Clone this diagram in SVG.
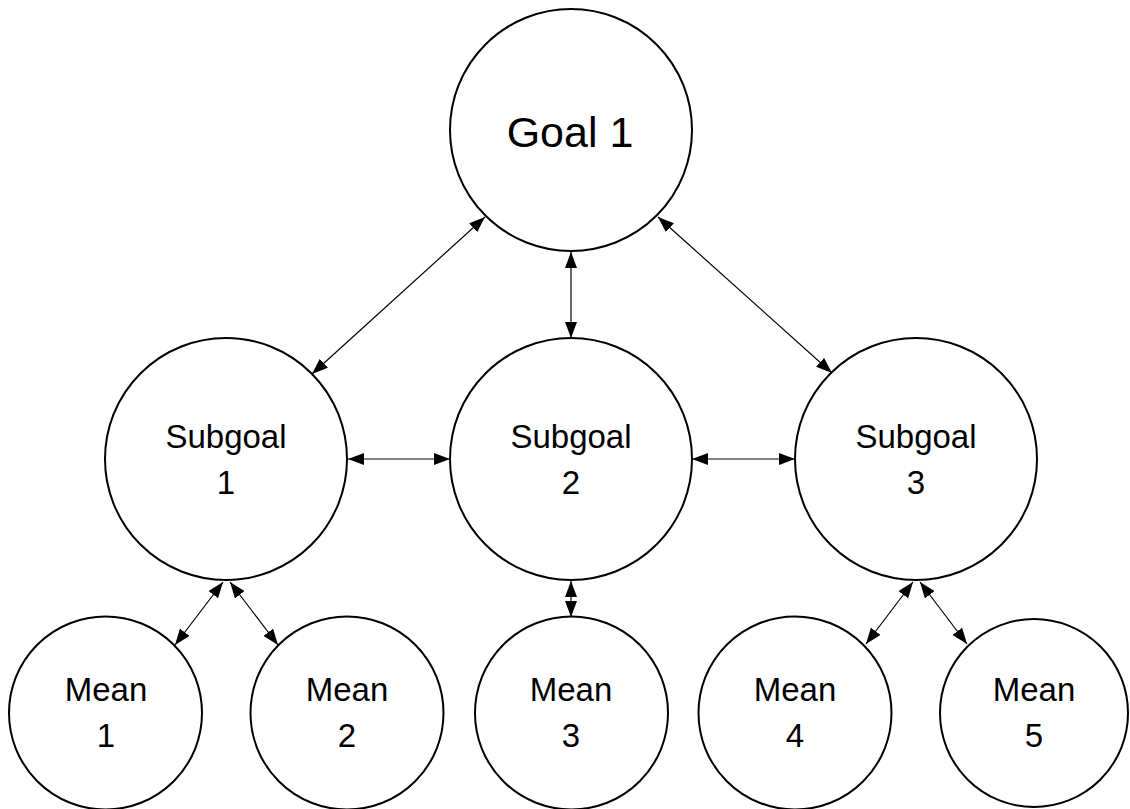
<svg xmlns="http://www.w3.org/2000/svg" width="1130" height="809" viewBox="0 0 1130 809">
<style>
.node circle { fill: #fff; stroke: #000; stroke-width: 2; }
.node text { font-family: "Liberation Sans", Arial, sans-serif; font-size: 33px; fill: #000; text-anchor: middle; }
.node text.big { font-size: 43px; }
.conn line { stroke: #000; stroke-width: 1.2; marker-start: url(#ah); marker-end: url(#ah); }
</style>
<defs>
<marker id="ah" markerUnits="userSpaceOnUse" markerWidth="16" markerHeight="12" refX="16" refY="6" orient="auto-start-reverse">
<path d="M0,0 L16,6 L0,12 z" fill="#000"/>
</marker>
</defs>
<rect width="1130" height="809" fill="#fff"/>
<g id="connectors" class="conn">
<line x1="485" y1="217" x2="312" y2="374"/>
<line x1="658" y1="217" x2="832" y2="373"/>
<line x1="571" y1="252" x2="571" y2="338"/>
<line x1="348" y1="459" x2="450" y2="459"/>
<line x1="692" y1="459" x2="795" y2="459"/>
<line x1="223" y1="582" x2="175" y2="645"/>
<line x1="230" y1="582" x2="278" y2="645"/>
<line x1="571" y1="581" x2="571" y2="617"/>
<line x1="913" y1="582" x2="866" y2="644"/>
<line x1="920" y1="582" x2="967" y2="644"/>
</g>
<g id="goal1" class="node"><circle cx="571" cy="130" r="121"/><text class="big" x="570" y="147">Goal 1</text></g>
<g id="subgoal1" class="node"><circle cx="226" cy="459" r="121"/><text x="226" y="448">Subgoal</text><text x="226" y="494">1</text></g>
<g id="subgoal2" class="node"><circle cx="571" cy="459" r="121"/><text x="571" y="448">Subgoal</text><text x="571" y="494">2</text></g>
<g id="subgoal3" class="node"><circle cx="916" cy="459" r="121"/><text x="916" y="448">Subgoal</text><text x="916" y="494">3</text></g>
<g id="mean1" class="node"><circle cx="105.5" cy="713" r="96.5"/><text x="106" y="701">Mean</text><text x="106" y="747">1</text></g>
<g id="mean2" class="node"><circle cx="347" cy="713" r="96.5"/><text x="347" y="701">Mean</text><text x="347" y="747">2</text></g>
<g id="mean3" class="node"><circle cx="571.5" cy="713" r="96.5"/><text x="571" y="701">Mean</text><text x="571" y="747">3</text></g>
<g id="mean4" class="node"><circle cx="795" cy="713" r="96.5"/><text x="795" y="701">Mean</text><text x="795" y="747">4</text></g>
<g id="mean5" class="node"><circle cx="1034" cy="713" r="94"/><text x="1034" y="701">Mean</text><text x="1034" y="747">5</text></g>
</svg>
